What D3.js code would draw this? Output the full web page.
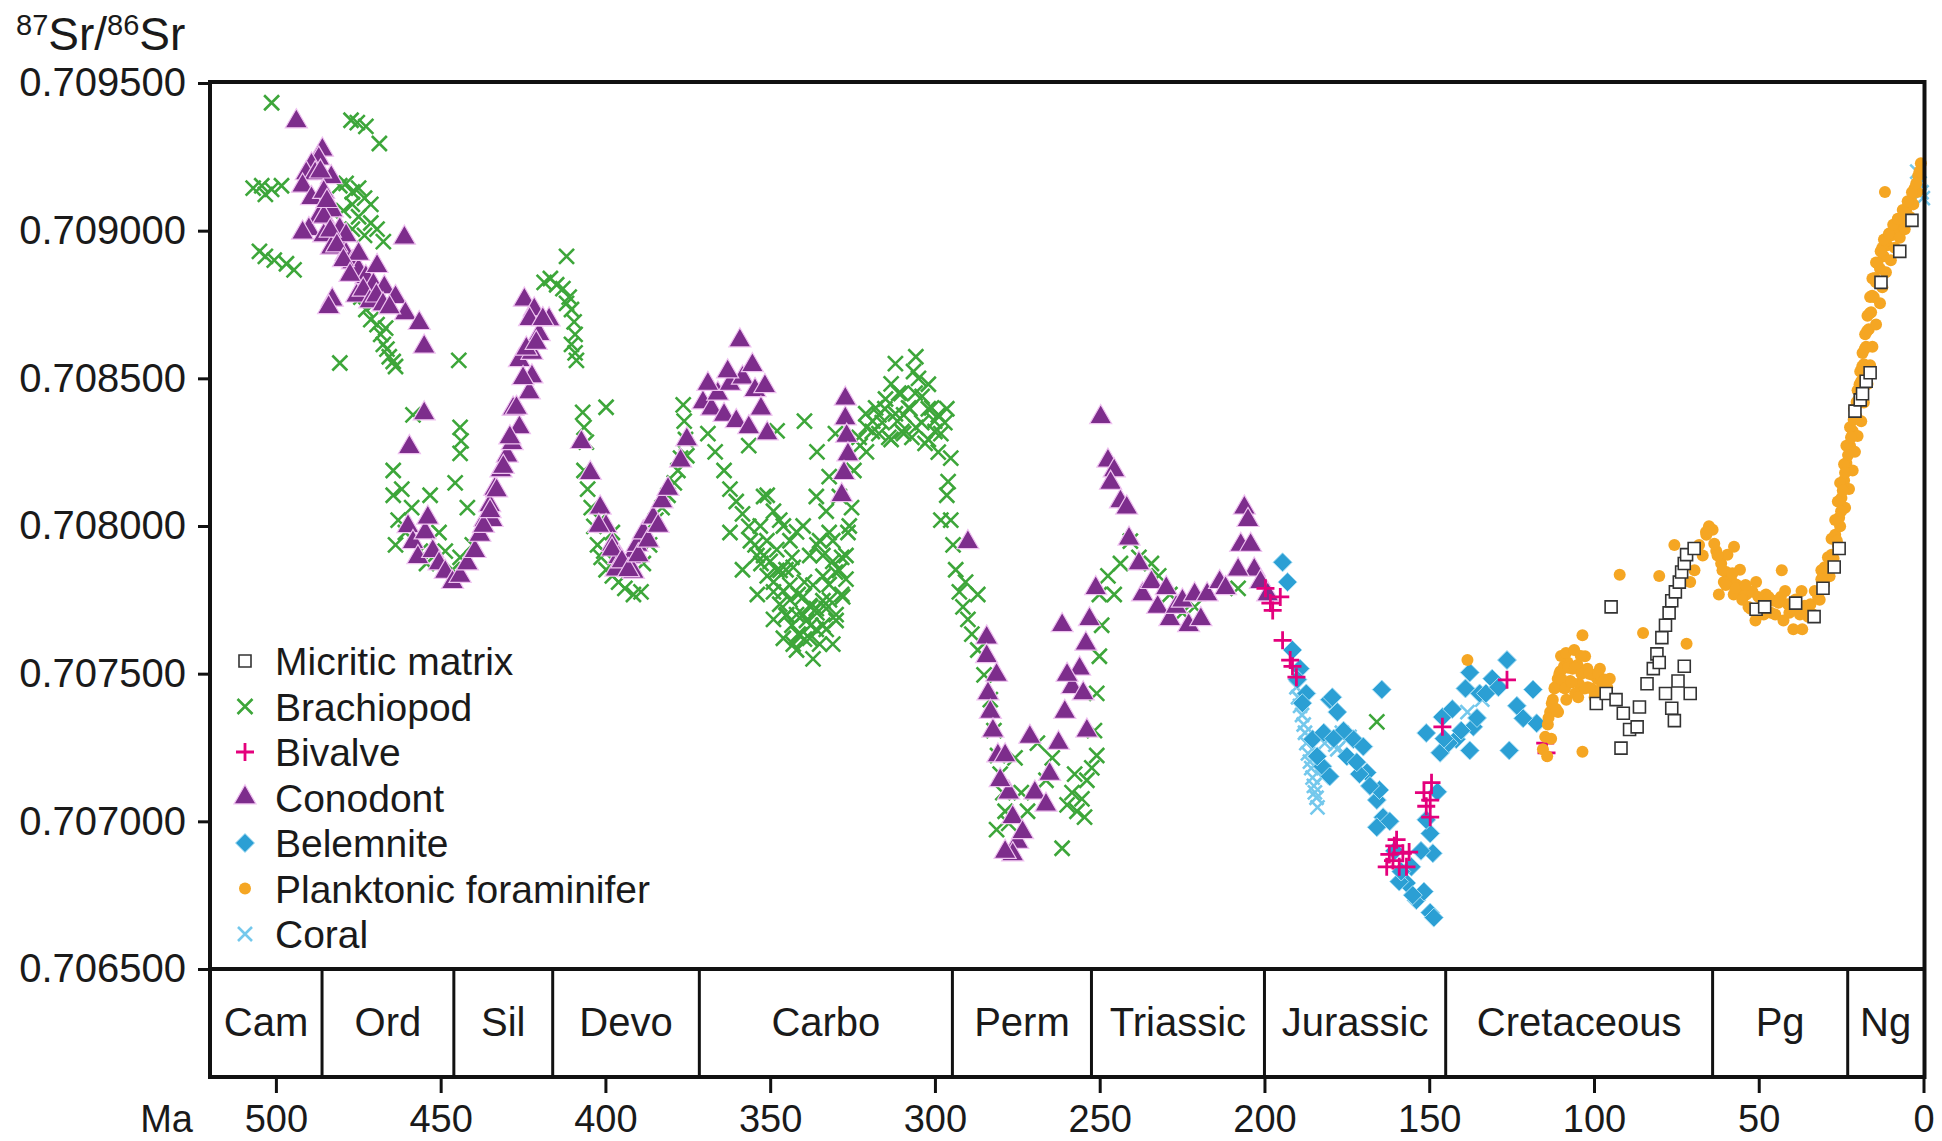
<!DOCTYPE html>
<html>
<head>
<meta charset="utf-8">
<script src="https://d3js.org/d3.v7.min.js"></script>
<style>
body { margin: 0; background: #fff; }
text { font-family: Arial, "Liberation Sans", sans-serif; fill: #1a1a1a; }
</style>
</head>
<body>
<script>
var W = 1942, H = 1141;

// geologic periods (Ma boundaries, old -> young)
var periods = ["Cam", "Ord", "Sil", "Devo", "Carbo", "Perm", "Triassic", "Jurassic", "Cretaceous", "Pg", "Ng"];
var bounds = [520, 486, 446, 416, 371.5, 294.7, 252.5, 200, 145, 64, 23, 0];
var xTicks = [500, 450, 400, 350, 300, 250, 200, 150, 100, 50, 0];
var yTicks = [0.7065, 0.7070, 0.7075, 0.7080, 0.7085, 0.7090, 0.7095];

// [age Ma, 87Sr/86Sr]
var micritic = [[94.8,0.707726],[91.8,0.707248],[99.3,0.707399],[96.3,0.707433],[93.3,0.707412],[91.1,0.707366],[89.2,0.707311],
  [86.2,0.707387],[86.9,0.707320],[83.9,0.707466],[82.0,0.707517],[80.9,0.707567],[79.4,0.707622],[78.3,0.707664],[77.2,0.707706],
  [76.4,0.707747],[75.3,0.707777],[74.1,0.707810],[73.4,0.707844],[72.6,0.707873],[71.9,0.707903],[69.6,0.707924],[78.3,0.707433],
  [76.4,0.707383],[75.6,0.707341],[74.5,0.707475],[72.6,0.707525],[70.8,0.707433],[80.2,0.707538],[50.8,0.707718],[48.2,0.707726],
  [38.8,0.707739],[33.2,0.707693],[30.5,0.707789],[27.1,0.707861],[25.6,0.707924],[20.8,0.708389],[19.2,0.708427],[18.5,0.708448],
  [17.4,0.708490],[16.2,0.708519],[12.9,0.708825],[7.2,0.708930],[3.5,0.709035]];

var brachiopod = [[501.3,0.709433],[477.2,0.709374],[475.3,0.709366],[472.7,0.709353],[468.6,0.709295],
  [506.9,0.709144],[504.3,0.709152],[501.3,0.709140],[498.3,0.709152],[503.2,0.709123],
  [505.0,0.708930],[503.2,0.708913],[500.5,0.708900],[496.8,0.708888],[494.5,0.708867],
  [480.6,0.709152],[478.7,0.709160],[476.8,0.709131],[474.9,0.709144],[473.1,0.709110],[471.2,0.709089],[476.8,0.709089],
  [479.5,0.709068],[474.9,0.709047],[471.2,0.709026],[469.3,0.709005],[473.1,0.708984],[476.8,0.709005],[467.4,0.708963],
  [474.2,0.708775],[472.7,0.708733],[471.2,0.708699],[469.3,0.708682],[468.2,0.708649],[467.4,0.708615],[466.3,0.708599],
  [465.6,0.708573],[464.4,0.708557],[463.7,0.708540],[466.7,0.708670],[470.1,0.708754],
  [480.6,0.708552],[444.5,0.708561],[411.8,0.708913],
  [418.6,0.708825],[416.7,0.708838],[414.8,0.708817],[412.9,0.708804],[411.0,0.708775],[410.3,0.708733],[411.8,0.708754],
  [409.5,0.708691],[409.2,0.708649],[410.3,0.708615],[409.2,0.708586],[408.8,0.708561],
  [458.4,0.708376],[444.1,0.708334],[443.8,0.708288],[444.1,0.708246],
  [406.9,0.708385],[406.5,0.708334],[405.8,0.708284],[399.8,0.708402],
  [376.4,0.708410],[376.1,0.708355],[375.7,0.708293],[375.3,0.708238],
  [464.4,0.708188],[464.4,0.708104],[462.9,0.708020],[460.7,0.707978],[463.7,0.707936],[458.8,0.708062],[456.2,0.707915],
  [454.3,0.707873],[461.8,0.708125],[453.2,0.708104],[450.5,0.707978],[448.6,0.707915],[446.4,0.707852],[444.1,0.707894],
  [441.9,0.708062],[440.4,0.707936],[445.6,0.708146],
  [406.5,0.708188],[405.4,0.708125],[404.3,0.708062],[403.5,0.707999],[402.4,0.707936],[401.3,0.707894],[399.8,0.707852],
  [397.9,0.707831],[396.0,0.707810],[394.1,0.707789],[391.5,0.707768],[389.2,0.707777],[400.5,0.707915],[397.9,0.707978],
  [401.6,0.708020],[386.6,0.707936],[384.7,0.708020],[382.8,0.708062],[381.0,0.708104],[379.1,0.708146],[378.0,0.708188],
  [377.2,0.708230],[388.5,0.707873],
  [368.9,0.708313],[366.7,0.708251],[364.0,0.708188],[362.2,0.708125],[360.3,0.708083],[358.4,0.708041],[356.5,0.707999],
  [354.6,0.707936],[352.8,0.707873],[350.9,0.707831],[349.0,0.707777],[347.1,0.707735],[345.2,0.707697],[343.4,0.707664],
  [341.5,0.707634],[339.6,0.707617],[337.7,0.707664],[335.8,0.707706],[334.0,0.707747],[332.1,0.707802],[330.2,0.707844],
  [328.3,0.707894],[350.9,0.708104],[347.1,0.708020],[343.4,0.707894],[339.6,0.707810],[335.8,0.707936],[332.1,0.707978],
  [341.5,0.707768],[337.7,0.707726],[334.0,0.707664],[353.9,0.707768],[349.0,0.707684],[339.6,0.708355],[347.9,0.708322],
  [330.2,0.708313],[335.8,0.708251],[332.1,0.708167],[356.5,0.708272],[362.2,0.707978],[358.4,0.707852],[345.2,0.707852],
  [328.3,0.707768],[326.4,0.707978],[325.3,0.708062],
  [352.0,0.707900],[348.0,0.707850],[344.0,0.707800],[340.0,0.707700],[336.0,0.707650],[333.0,0.707720],[330.0,0.707680],
  [327.0,0.707820],[346.0,0.707620],[342.0,0.707580],[338.0,0.707730],[334.0,0.707900],[331.0,0.707880],[344.0,0.707950],
  [340.0,0.708000],[336.0,0.708100],
  [356.0,0.707950],[354.0,0.707900],[353.0,0.708000],[351.0,0.707950],[350.0,0.707880],[349.0,0.707810],[348.0,0.707920],
  [347.0,0.707850],[346.0,0.707780],[345.0,0.707700],[344.0,0.707750],[343.0,0.707860],[342.0,0.707700],[341.0,0.707630],
  [340.0,0.707760],[339.0,0.707680],[338.0,0.707620],[337.0,0.707800],[336.0,0.707720],[335.0,0.707600],[334.0,0.707830],
  [333.0,0.707650],[332.0,0.707750],[331.0,0.707600],[330.0,0.707700],[329.0,0.707850],[328.0,0.707760],[327.0,0.707900],
  [326.0,0.708000],[338.0,0.707900],[342.0,0.707980],[335.0,0.707950],[331.0,0.707950],[346.0,0.708000],[349.0,0.708050],
  [352.0,0.708100],[329.0,0.708100],[333.0,0.708050],[343.0,0.707600],[337.0,0.707550],
  [324.6,0.708188],[322.7,0.708272],[320.8,0.708334],[318.9,0.708355],[317.0,0.708376],[315.2,0.708397],[313.3,0.708481],
  [311.4,0.708355],[309.5,0.708376],[307.6,0.708397],[305.8,0.708573],[303.9,0.708439],[302.0,0.708397],[300.1,0.708355],
  [298.2,0.708313],[296.4,0.708397],[295.2,0.708230],[317.0,0.708313],[313.3,0.708293],[309.5,0.708313],[305.8,0.708334],
  [302.0,0.708293],[320.8,0.708251],[310.3,0.708448],[299.0,0.708376],[306.5,0.708523],
  [323.0,0.708300],[321.0,0.708380],[319.0,0.708320],[318.0,0.708400],[316.0,0.708350],[315.0,0.708430],[314.0,0.708300],
  [312.0,0.708380],[311.0,0.708450],[310.0,0.708320],[308.0,0.708400],[307.0,0.708300],[306.0,0.708450],[304.0,0.708350],
  [303.0,0.708280],[301.0,0.708400],[300.0,0.708320],[299.0,0.708250],[297.0,0.708350],[296.0,0.708150],[305.0,0.708500],
  [312.0,0.708550],[302.0,0.708480],
  [296.4,0.708104],[295.2,0.708020],[294.5,0.707936],[293.7,0.707852],[292.6,0.707777],[291.5,0.707726],[290.0,0.707684],
  [288.8,0.707634],[287.0,0.707580],[285.1,0.707496],[283.2,0.707412],[282.1,0.707307],[281.0,0.707223],[280.2,0.707160],
  [279.4,0.707097],[278.7,0.707034],[281.3,0.706972],[277.6,0.706993],[290.7,0.707810],[287.0,0.707768],[298.2,0.708020],
  [271.9,0.707034],[268.9,0.707265],[266.3,0.707139],[264.4,0.707215],[261.4,0.706909],[259.9,0.707056],[258.4,0.707097],
  [256.9,0.707034],[255.4,0.707076],[253.9,0.707139],[252.4,0.707181],[250.9,0.707223],[257.6,0.707160],[254.6,0.707014],
  [251.6,0.707307],[250.9,0.707433],[250.1,0.707559],[249.4,0.707664],[250.1,0.707768],[273.8,0.707097],[275.7,0.707215],
  [247.5,0.707831],[245.6,0.707768],[243.7,0.707873],[240.7,0.707949],[238.1,0.707894],[234.3,0.707873],[232.1,0.707831],
  [228.7,0.707768],[224.9,0.707706],[221.2,0.707726],[208.0,0.707789],
  [165.9,0.707337]];

var bivalve = [[199.7,0.707789],[198.2,0.707739],[197.5,0.707714],[195.2,0.707760],[194.5,0.707613],[192.2,0.707546],
  [191.5,0.707525],[190.3,0.707488],[159.9,0.706938],[158.0,0.706892],[156.9,0.706846],[162.1,0.706888],[161.0,0.706867],
  [159.1,0.706846],[160.6,0.706917],[162.9,0.706846],[156.1,0.706896],[151.6,0.707097],[150.9,0.707051],[149.7,0.707072],
  [149.3,0.707131],[149.7,0.707014],[146.0,0.707320],[126.4,0.707479],[114.8,0.707265],[114.4,0.707232]];

var conodont = [[493.8,0.709370],[485.9,0.709274],[487.0,0.709244],[489.2,0.709223],[490.8,0.709194],[488.1,0.709194],
  [483.2,0.709181],[491.9,0.709152],[489.2,0.709110],[485.5,0.709131],[482.9,0.709068],[487.0,0.709047],[490.0,0.709005],
  [491.9,0.708993],[485.5,0.708984],[483.2,0.708942],[481.0,0.708959],[478.7,0.708921],[476.8,0.708892],[474.9,0.708867],
  [472.7,0.708842],[470.4,0.708817],[467.1,0.708808],[463.7,0.708775],[460.7,0.708720],[456.5,0.708687],[455.0,0.708607],
  [461.0,0.708976],[482.9,0.708766],[484.0,0.708741],[480.6,0.709005],[478.7,0.708984],[474.9,0.708921],[469.3,0.708880],
  [485.5,0.709047],[486.5,0.709200],[484.5,0.709100],[483.5,0.709000],[481.5,0.708950],[479.5,0.708900],[477.5,0.708850],
  [475.5,0.708780],[473.5,0.708800],[471.5,0.708760],[469.5,0.708780],[467.5,0.708750],[465.5,0.708740],
  [455.0,0.708381],[459.5,0.708267],[459.9,0.707999],[458.4,0.707945],[456.9,0.707894],[454.7,0.707978],[452.4,0.707915],
  [450.5,0.707873],[448.6,0.707844],[446.4,0.707810],[444.1,0.707831],[441.9,0.707873],[453.9,0.708028],
  [439.6,0.707915],[438.1,0.707970],[436.6,0.708020],[435.1,0.708070],[433.6,0.708125],[431.7,0.708188],[429.8,0.708238],
  [428.3,0.708280],[426.1,0.708334],[423.1,0.708452],[422.3,0.708506],[426.1,0.708561],[422.3,0.708586],[420.1,0.708649],
  [417.1,0.708699],[424.6,0.708766],[421.6,0.708733],[434.4,0.708020],[428.0,0.708397],
  [437.0,0.708000],[435.0,0.708050],[433.0,0.708120],[431.0,0.708200],[429.0,0.708300],[427.0,0.708400],[425.0,0.708500],
  [424.0,0.708600],[423.0,0.708700],[421.0,0.708620],[419.0,0.708700],
  [407.3,0.708284],[404.6,0.708179],[401.6,0.708062],[399.8,0.707999],[397.9,0.707936],[396.0,0.707894],[394.1,0.707861],
  [392.2,0.707894],[390.4,0.707936],[388.5,0.707978],[385.5,0.708028],[382.8,0.708083],[381.0,0.708125],[377.2,0.708221],
  [375.3,0.708293],[396.8,0.707852],[391.5,0.707844],
  [402.0,0.708000],[398.0,0.707920],[395.0,0.707880],[393.0,0.707850],[390.0,0.707900],[387.0,0.707950],[384.0,0.708000],
  [359.2,0.708628],[370.4,0.708418],[367.8,0.708397],[365.9,0.708448],[364.0,0.708376],[362.2,0.708481],[360.3,0.708355],
  [358.4,0.708502],[356.5,0.708334],[354.6,0.708460],[352.8,0.708397],[350.9,0.708313],[368.9,0.708481],[362.9,0.708523],
  [355.4,0.708544],[351.6,0.708473],
  [327.2,0.708431],[327.2,0.708364],[326.8,0.708305],[326.4,0.708242],[327.6,0.708179],[328.3,0.708104],
  [290.0,0.707945],[284.3,0.707622],[284.3,0.707559],[283.9,0.707433],[283.2,0.707370],[282.4,0.707307],[280.9,0.707223],
  [278.7,0.707223],[277.6,0.707097],[276.4,0.707014],[274.9,0.706930],[276.4,0.706888],[278.7,0.706896],[273.4,0.706963],
  [269.7,0.707097],[266.3,0.707056],[265.2,0.707160],[262.5,0.707265],[260.6,0.707370],[258.4,0.707454],[256.1,0.707517],
  [254.2,0.707601],[253.1,0.707684],[251.2,0.707789],[271.2,0.707286],[261.4,0.707664],[259.9,0.707496],[255.0,0.707433],
  [253.9,0.707307],[280.2,0.707139],[281.3,0.707496],
  [249.7,0.708368],[247.5,0.708221],[245.6,0.708188],[246.7,0.708146],[243.7,0.708083],[241.8,0.708062],[241.1,0.707957],
  [238.1,0.707873],[237.0,0.707768],[234.3,0.707810],[232.4,0.707726],[228.7,0.707684],[226.8,0.707726],[224.9,0.707747],
  [221.2,0.707768],[217.4,0.707768],[213.6,0.707810],[211.8,0.707789],[223.0,0.707664],[219.3,0.707684],[229.8,0.707789],
  [206.1,0.708062],[205.0,0.708020],[207.2,0.707936],[204.2,0.707936],[203.1,0.707852],[201.2,0.707810],[199.0,0.707768],
  [208.0,0.707852]];

var belemnite = [[194.5,0.707877],[193.0,0.707810],[191.5,0.707580],[185.4,0.707278],[182.4,0.707186],[180.2,0.707412],
  [179.4,0.707420],[180.2,0.707152],[173.0,0.707278],[170.0,0.707253],[168.9,0.707165],[165.9,0.707072],[165.1,0.707106],
  [164.0,0.707014],[165.9,0.706980],[164.4,0.707446],[156.9,0.706791],[153.9,0.706733],[149.7,0.706691],[151.6,0.706762],
  [148.9,0.706892],[149.7,0.706959],[150.9,0.707005],[150.9,0.707299],[146.7,0.707232],[146.0,0.707353],[141.8,0.707278],
  [137.7,0.707240],[136.6,0.707320],[137.7,0.707504],[134.7,0.707433],[126.4,0.707546],[125.7,0.707240],[118.5,0.707446],
  [117.4,0.707332],[123.4,0.707391],[121.5,0.707349],[130.9,0.707483],[132.8,0.707433],[129.0,0.707454],[140.3,0.707307],
  [144.1,0.707265],[176.0,0.707307],[177.9,0.707370],[189.2,0.707517],[187.3,0.707433],[171.2,0.707160],[155.4,0.706846],
  [159.1,0.706796],[148.6,0.706674],
  [190.0,0.707480],[188.5,0.707400],[184.0,0.707220],[182.0,0.707300],[179.0,0.707280],[175.0,0.707220],[172.0,0.707200],
  [168.0,0.707120],[162.0,0.707000],[160.5,0.706900],[158.5,0.706830],[155.0,0.706750],[152.5,0.706900],[147.5,0.707100],
  [145.5,0.707280],[143.0,0.707380],[139.0,0.707450],[135.5,0.707350]];

var foraminifer = [[138.4,0.707546],[103.5,0.707236],[103.5,0.707630],[92.2,0.707835],[85.1,0.707638],
  [115.5,0.707244],[114.8,0.707286],[114.0,0.707328],[113.3,0.707370],[112.5,0.707412],[111.8,0.707454],[111.0,0.707483],
  [110.2,0.707508],[109.1,0.707525],[108.0,0.707538],[106.5,0.707517],[105.0,0.707529],[103.5,0.707508],[102.0,0.707517],
  [100.5,0.707496],[99.0,0.707483],[97.5,0.707466],[96.0,0.707454],[109.5,0.707454],[107.2,0.707475],[104.6,0.707466],
  [101.9,0.707454],[99.7,0.707433],[108.4,0.707412],[105.7,0.707433],[110.9,0.707370],[102.7,0.707559],[98.2,0.707517],
  [95.2,0.707483],
  [113.8,0.707350],[112.8,0.707400],[112.0,0.707450],[110.5,0.707500],[109.8,0.707480],[108.8,0.707450],[107.8,0.707520],
  [106.8,0.707470],[105.8,0.707520],[104.8,0.707420],[103.8,0.707500],[102.8,0.707450],[101.5,0.707500],[100.8,0.707450],
  [99.8,0.707420],[98.8,0.707500],[97.8,0.707450],[96.8,0.707480],[110.0,0.707560],[108.5,0.707570],[106.0,0.707580],
  [104.0,0.707560],[111.5,0.707380],[113.0,0.707280],[114.2,0.707220],
  [68.1,0.707936],[65.9,0.707970],[64.0,0.707987],[62.9,0.707915],[61.4,0.707873],[59.9,0.707844],[58.4,0.707819],
  [56.9,0.707802],[55.3,0.707785],[53.8,0.707768],[51.9,0.707777],[50.1,0.707760],[47.8,0.707768],[45.6,0.707747],
  [43.3,0.707760],[41.1,0.707735],[38.8,0.707751],[36.5,0.707726],[34.3,0.707735],[32.0,0.707760],[30.2,0.707802],
  [60.6,0.707810],[57.6,0.707768],[53.1,0.707726],[46.3,0.707706],[40.7,0.707706],[35.0,0.707693],[59.5,0.707903],
  [55.7,0.707852],[50.8,0.707810],[70.8,0.707810],[71.9,0.707601],[80.2,0.707831],[75.6,0.707936],[62.1,0.707768],
  [65.1,0.707999],
  [63.5,0.707940],[62.5,0.707900],[61.0,0.707850],[60.0,0.707800],[58.0,0.707840],[57.0,0.707790],[55.0,0.707750],
  [54.0,0.707800],[52.5,0.707720],[51.0,0.707680],[49.0,0.707750],[48.5,0.707700],[47.0,0.707760],[45.0,0.707700],
  [44.0,0.707740],[42.5,0.707680],[42.0,0.707780],[40.0,0.707720],[39.5,0.707650],[37.5,0.707700],[37.0,0.707780],
  [36.0,0.707730],[33.5,0.707700],[33.0,0.707780],[31.5,0.707750],[31.0,0.707850],[57.5,0.707930],[43.0,0.707850],
  [67.0,0.707900],[66.0,0.707980],[69.5,0.707850],[36.8,0.707650],
  [29.0,0.707844],[27.9,0.707903],[26.8,0.707970],[25.6,0.708028],[24.9,0.708095],[24.1,0.708154],[23.4,0.708213],
  [22.3,0.708272],[21.5,0.708322],[20.4,0.708372],[19.6,0.708431],[18.9,0.708490],[18.1,0.708548],[17.4,0.708607],
  [16.6,0.708666],[15.9,0.708724],[15.1,0.708775],[14.4,0.708825],[13.2,0.708871],[12.1,0.708913],[11.0,0.708951],
  [9.9,0.708984],[8.3,0.709010],[6.8,0.709035],[5.3,0.709068],[3.8,0.709102],[2.7,0.709144],[1.6,0.709186],[0.8,0.709228],
  [27.5,0.707873],[26.0,0.707936],[25.3,0.707999],[23.8,0.708062],[22.6,0.708125],[21.5,0.708188],[20.8,0.708251],
  [20.0,0.708305],[18.9,0.708355],[18.1,0.708418],[17.0,0.708481],[16.2,0.708544],[15.5,0.708607],[14.4,0.708682],
  [13.2,0.708754],[12.5,0.708808],[11.4,0.708859],[9.9,0.708900],[8.7,0.708942],[7.2,0.708976],[5.7,0.709005],
  [4.2,0.709047],[3.1,0.709089],[1.9,0.709131],[11.7,0.709131],
  [30.5,0.707831],[29.0,0.707894],[27.9,0.707957],[26.8,0.708020],[26.0,0.708083],[25.3,0.708146],[24.1,0.708209],
  [23.4,0.708272],[22.3,0.708334],[21.1,0.708397],[20.0,0.708460],[19.2,0.708523],[18.5,0.708586],[17.7,0.708649],
  [17.0,0.708712],[16.2,0.708775],[15.5,0.708838],[14.4,0.708892],[12.5,0.708942],
  [28.5,0.707830],[27.3,0.707890],[26.3,0.707950],[25.0,0.708050],[24.5,0.708120],[23.8,0.708180],[22.9,0.708240],
  [22.0,0.708300],[21.2,0.708360],[20.3,0.708420],[19.4,0.708480],[18.6,0.708540],[17.8,0.708600],[17.1,0.708660],
  [16.3,0.708720],[15.6,0.708780],[14.8,0.708840],[14.0,0.708890],[13.0,0.708930],[12.0,0.708970],[10.5,0.708990],
  [9.2,0.709020],[7.8,0.709040],[6.3,0.709070],[4.8,0.709100],[3.5,0.709130],[2.2,0.709160],[1.2,0.709200],
  [31.5,0.707780],[31.0,0.707820],[30.0,0.707860]];

var coral = [[190.3,0.707454],[189.2,0.707391],[188.1,0.707328],[187.3,0.707265],[186.2,0.707202],[185.4,0.707148],
  [184.7,0.707098],[183.9,0.707047],[181.7,0.707265],[177.9,0.707244],[174.2,0.707286],[133.9,0.707412],[138.4,0.707370],
  [189.8,0.707420],[188.6,0.707360],[187.7,0.707300],[186.8,0.707230],[185.8,0.707180],[185.0,0.707120],[184.2,0.707080],
  [178.5,0.707260],[176.5,0.707300],[182.5,0.707150],
  [1.9,0.709200],[1.2,0.709160],[0.6,0.709130],[0.2,0.709110],[1.5,0.709140]];

var x = d3.scaleLinear().domain([520, 0]).range([210, 1923.5]);
var y = d3.scaleLinear().domain([0.7065, 0.7095]).range([969, 83]);

var svg = d3.select("body").append("svg").attr("width", W).attr("height", H);

// symbol paths
function shape(type, s) {
  if (type == "square") return "M" + (-s) + "," + (-s) + "h" + 2 * s + "v" + 2 * s + "h" + (-2 * s) + "Z";
  if (type == "times" || type == "coral") return "M" + (-s) + "," + (-s) + "L" + s + "," + s + "M" + (-s) + "," + s + "L" + s + "," + (-s);
  if (type == "plus") return "M0," + (-s) + "V" + s + "M" + (-s) + ",0H" + s;
  if (type == "triangle") return d3.symbol(d3.symbolTriangle, s * s * 1.75)();
  if (type == "diamond") return "M0," + (-s) + "L" + s + ",0L0," + s + "L" + (-s) + ",0Z";
  if (type == "circle") return d3.symbol(d3.symbolCircle, Math.PI * s * s)();
}

var series = [
  { name: "Brachiopod", data: brachiopod, type: "times", size: 7.5, fill: "none", stroke: "#3da63a", sw: 2.6 },
  { name: "Conodont", data: conodont, type: "triangle", size: 11, fill: "#7d2d8c", stroke: "#efc2f0", sw: 1.2 },
  { name: "Coral", data: coral, type: "coral", size: 7, fill: "none", stroke: "#74c8ec", sw: 2.6 },
  { name: "Belemnite", data: belemnite, type: "diamond", size: 9.5, fill: "#2b9fd4", stroke: "#a6def5", sw: 1 },
  { name: "Bivalve", data: bivalve, type: "plus", size: 9, fill: "none", stroke: "#e4007c", sw: 2.8 },
  { name: "Planktonic foraminifer", data: foraminifer, type: "circle", size: 6, fill: "#f5a623", stroke: "none", sw: 0 },
  { name: "Micritic matrix", data: micritic, type: "square", size: 6, fill: "#fff", stroke: "#333", sw: 1.6 }
];

var plot = svg.append("g");
series.forEach(function (s) {
  plot.selectAll(null).data(s.data).enter().append("path")
    .attr("transform", function (d) { return "translate(" + x(d[0]) + "," + y(d[1]) + ")"; })
    .attr("d", shape(s.type, s.size))
    .attr("fill", s.fill)
    .attr("stroke", s.stroke)
    .attr("stroke-width", s.sw);
});

// frame
svg.append("rect")
  .attr("x", x(520)).attr("y", 82)
  .attr("width", x(0) - x(520) + 1).attr("height", 1077 - 82)
  .attr("fill", "none").attr("stroke", "#111").attr("stroke-width", 4);
svg.append("line")
  .attr("x1", x(520)).attr("x2", x(0) + 1).attr("y1", 969).attr("y2", 969)
  .attr("stroke", "#111").attr("stroke-width", 4);

// period bar
var pg = svg.append("g");
pg.selectAll("line.div").data(bounds.slice(1, -1)).enter().append("line")
  .attr("x1", function (d) { return x(d); }).attr("x2", function (d) { return x(d); })
  .attr("y1", 969).attr("y2", 1077)
  .attr("stroke", "#111").attr("stroke-width", 3);
pg.selectAll("text").data(periods).enter().append("text")
  .attr("x", function (d, i) { return (x(bounds[i]) + x(bounds[i + 1])) / 2; })
  .attr("y", 1036)
  .attr("text-anchor", "middle")
  .style("font-size", "40px")
  .text(function (d) { return d; });

// axes
var yAxis = svg.append("g").attr("transform", "translate(" + x(520) + ",0)")
  .call(d3.axisLeft(y).tickValues(yTicks).tickSize(12).tickPadding(12).tickFormat(d3.format(".6f")));
var xAxis = svg.append("g").attr("transform", "translate(0,1077)")
  .call(d3.axisBottom(x).tickValues(xTicks).tickSize(16).tickPadding(12).tickFormat(d3.format("d")));
[yAxis, xAxis].forEach(function (a) {
  a.select(".domain").remove();
  a.selectAll(".tick line").attr("stroke", "#111").attr("stroke-width", 3);
  a.selectAll(".tick text").style("font-family", "Arial, 'Liberation Sans', sans-serif").attr("fill", "#1a1a1a");
});
yAxis.selectAll(".tick text").style("font-size", "40px");
xAxis.selectAll(".tick text").style("font-size", "38px");

svg.append("text").attr("x", 193).attr("y", 1132).attr("text-anchor", "end")
  .style("font-size", "38px").text("Ma");

// y title with superscripts
var title = svg.append("text").attr("x", 16).attr("y", 50).style("font-size", "46px");
title.append("tspan").attr("dy", -15).style("font-size", "29px").text("87");
title.append("tspan").attr("dy", 15).text("Sr/");
title.append("tspan").attr("dy", -15).style("font-size", "29px").text("86");
title.append("tspan").attr("dy", 15).text("Sr");

// legend
var legendOrder = ["Micritic matrix", "Brachiopod", "Bivalve", "Conodont", "Belemnite", "Planktonic foraminifer", "Coral"];
var leg = svg.append("g");
legendOrder.forEach(function (n, i) {
  var s = series.filter(function (d) { return d.name == n; })[0];
  var cy = 661 + i * 45.5;
  leg.append("path")
    .attr("transform", "translate(245," + cy + ")")
    .attr("d", shape(s.type, s.size))
    .attr("fill", s.fill).attr("stroke", s.stroke).attr("stroke-width", s.sw);
  leg.append("text").attr("x", 275).attr("y", cy + 14)
    .style("font-size", "39px").text(n);
});
</script>
</body>
</html>
